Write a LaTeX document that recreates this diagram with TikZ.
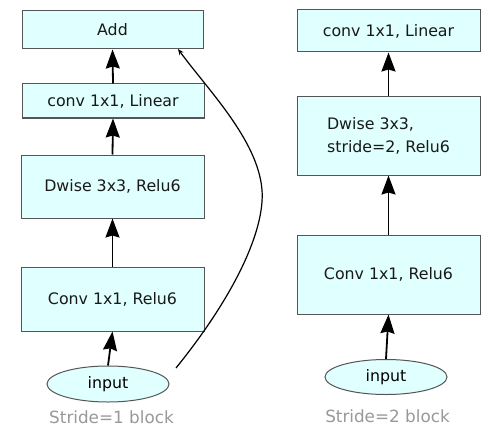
\documentclass[tikz,border=0pt]{standalone}
\usepackage{fontspec}
\setmainfont{DejaVu Sans}
\usetikzlibrary{arrows.meta,shapes.geometric}
\definecolor{boxfill}{HTML}{E0FFFF}
\definecolor{boxline}{HTML}{555555}
\definecolor{lblgray}{HTML}{999999}
\begin{document}
\begin{tikzpicture}[x=1pt,y=1pt,
  layerbox/.style={draw=boxline,fill=boxfill,line width=1pt,inner sep=0pt,
    font=\fontsize{15.8}{23}\selectfont,text=black!90},
  inbox/.style={ellipse,draw=boxline,fill=boxfill,line width=1pt,inner sep=0pt,
    minimum width=122pt,minimum height=36pt,font=\fontsize{15.8}{19}\selectfont},
  flow/.style={line width=1.8pt,-{Stealth[length=19pt,width=14pt,inset=2pt]}},
  skip/.style={line width=1.2pt,-{Stealth[length=6pt,width=5pt]}},
  blocklabel/.style={text=lblgray,font=\fontsize{16.8}{20}\selectfont,inner sep=0pt}]
\useasboundingbox (0,0) rectangle (500,-441);
\fill[white] (0,0) rectangle (500,-441);
% left column: stride 1
\node[layerbox,minimum width=181pt,minimum height=38pt] (add) at (112.5,-30) {Add};
\node[layerbox,minimum width=182pt,minimum height=34pt] (lin) at (113,-101) {conv 1x1, Linear};
\node[layerbox,minimum width=183pt,minimum height=63pt] (dw) at (112.5,-186.5) {Dwise 3x3, Relu6};
\node[layerbox,minimum width=183pt,minimum height=64pt] (cv) at (112.5,-299) {Conv 1x1, Relu6};
\node[inbox] (in) at (108,-384) {input};
\node[blocklabel] (lab1) at (111.5,-417) {Stride=1 block};
\draw[flow] (in.north) -- (cv.south);
\draw[flow] (cv.north) -- (dw.south);
\draw[flow] (dw.north) -- (lin.south);
\draw[flow] (lin.north) -- (add.south);
\coordinate (skipstart) at (176,-368);
\coordinate (skipend) at (178,-49);
\draw[skip] (skipstart) .. controls (235,-295) and (265,-230) .. (262,-190)
  .. controls (258,-140) and (208,-90) .. (skipend);
% right column: stride 2
\node[layerbox,minimum width=183pt,minimum height=42pt] (rlin) at (388.5,-31) {conv 1x1, Linear};
\node[layerbox,minimum width=183pt,minimum height=78pt,align=left] (rdw) at (388.5,-136) {Dwise 3x3,\\stride=2, Relu6};
\node[layerbox,minimum width=183pt,minimum height=79pt] (rcv) at (388.5,-274.5) {Conv 1x1, Relu6};
\node[inbox,minimum height=35pt] (rin) at (386,-377) {input};
\node[blocklabel] (lab2) at (387.5,-416) {Stride=2 block};
\draw[flow] (rin.north) -- (rcv.south);
\draw[flow] (rcv.north) -- (rdw.south);
\draw[flow] (rdw.north) -- (rlin.south);
\end{tikzpicture}
\end{document}
